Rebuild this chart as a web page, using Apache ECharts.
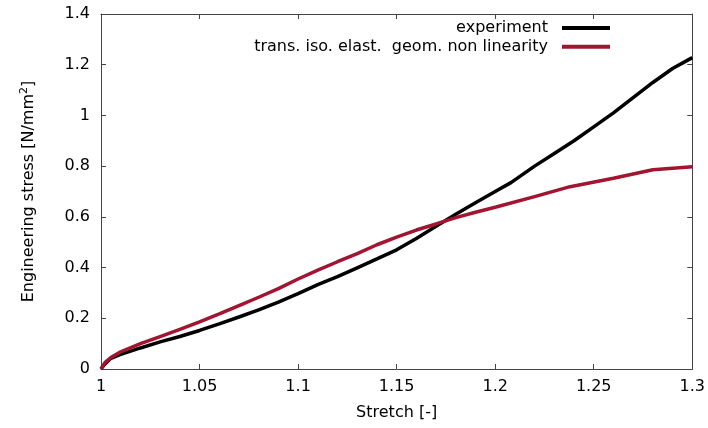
<!DOCTYPE html>
<html>
<head>
<meta charset="utf-8">
<script src="https://cdn.jsdelivr.net/npm/echarts@6/dist/echarts.min.js"></script>
<style>
  html, body { margin: 0; padding: 0; background: #fff; }
  #chart { width: 708px; height: 428px; }
</style>
</head>
<body>
<div id="chart"></div>
<script>
// Measured stress-stretch response
const expStretch = [1.0, 1.002, 1.005, 1.01, 1.02, 1.03, 1.04, 1.05, 1.06, 1.07, 1.08, 1.09, 1.1, 1.11, 1.12, 1.13, 1.14, 1.15, 1.16, 1.17, 1.18, 1.19, 1.2, 1.208, 1.22, 1.23, 1.24, 1.25, 1.26, 1.27, 1.28, 1.29, 1.3];
const expStress = [0, 0.02, 0.042, 0.058, 0.083, 0.107, 0.128, 0.152, 0.178, 0.205, 0.233, 0.264, 0.297, 0.333, 0.364, 0.399, 0.434, 0.47, 0.515, 0.563, 0.61, 0.656, 0.7, 0.735, 0.8, 0.85, 0.9, 0.955, 1.01, 1.07, 1.13, 1.185, 1.228];

// Transversely isotropic elastic model with geometric non-linearity
const modelStretch = [1.0, 1.002, 1.005, 1.01, 1.02, 1.03, 1.04, 1.05, 1.06, 1.07, 1.08, 1.09, 1.1, 1.11, 1.12, 1.13, 1.14, 1.15, 1.16, 1.17, 1.18, 1.19, 1.2, 1.22, 1.238, 1.26, 1.28, 1.3];
const modelStress = [0, 0.025, 0.045, 0.068, 0.1, 0.128, 0.156, 0.186, 0.217, 0.25, 0.283, 0.317, 0.355, 0.39, 0.423, 0.455, 0.49, 0.52, 0.548, 0.572, 0.597, 0.618, 0.638, 0.68, 0.719, 0.752, 0.786, 0.798];

const seriesNames = ['experiment', 'trans. iso. elast.  geom. non linearity'];
const seriesColors = ['#000000', '#a2142f'];

const FONT = 'DejaVu Sans';
const AXIS_COLOR = '#444444';

function pairs(xs, ys) {
  return xs.map((x, i) => [x, ys[i]]);
}

const frameAxis = {
  axisLine: { show: true, onZero: false, lineStyle: { color: AXIS_COLOR, width: 1 } },
  axisTick: { show: true, inside: true, length: 5, lineStyle: { color: AXIS_COLOR, width: 1 } },
  splitLine: { show: false }
};

const legendBase = {
  orient: 'horizontal',
  align: 'right',
  right: 98,
  padding: 0,
  itemWidth: 48,
  itemHeight: 4,
  icon: 'rect',
  selectedMode: false,
  textStyle: { fontFamily: FONT, fontSize: 16, color: '#000', padding: [0, 9, 0, 0] }
};

const chart = echarts.init(document.getElementById('chart'), null, { renderer: 'canvas' });

chart.setOption({
  animation: false,
  backgroundColor: '#ffffff',
  grid: { left: 101, right: 15, top: 14, bottom: 59, containLabel: false },
  legend: [
    Object.assign({}, legendBase, { top: 20, data: [seriesNames[0]] }),
    Object.assign({}, legendBase, { top: 38.7, data: [seriesNames[1]] })
  ],
  xAxis: [
    Object.assign({}, frameAxis, {
      type: 'value', position: 'bottom', min: 1, max: 1.3, interval: 0.05,
      name: 'Stretch [-]', nameLocation: 'middle', nameGap: 36,
      nameTextStyle: { fontFamily: FONT, fontSize: 16, color: '#000' },
      axisLabel: { fontFamily: FONT, fontSize: 16, color: '#000', margin: 10 }
    }),
    Object.assign({}, frameAxis, {
      type: 'value', position: 'top', min: 1, max: 1.3, interval: 0.05,
      axisLabel: { show: false }
    })
  ],
  yAxis: [
    Object.assign({}, frameAxis, {
      type: 'value', position: 'left', min: 0, max: 1.4, interval: 0.2,
      name: 'Engineering stress [N/mm{sup|2}]', nameLocation: 'middle', nameGap: 62,
      nameTextStyle: {
        fontFamily: FONT, fontSize: 16, color: '#000', lineHeight: 20,
        rich: {
          sup: { fontFamily: FONT, fontSize: 11, lineHeight: 11, verticalAlign: 'top', color: '#000' }
        }
      },
      axisLabel: { fontFamily: FONT, fontSize: 16, color: '#000', margin: 11 }
    }),
    Object.assign({}, frameAxis, {
      type: 'value', position: 'right', min: 0, max: 1.4, interval: 0.2,
      axisLabel: { show: false }
    })
  ],
  series: [
    {
      name: seriesNames[0], type: 'line', xAxisIndex: 0, yAxisIndex: 0,
      data: pairs(expStretch, expStress),
      showSymbol: false, symbol: 'none',
      color: seriesColors[0],
      lineStyle: { color: seriesColors[0], width: 3.5 }
    },
    {
      name: seriesNames[1], type: 'line', xAxisIndex: 0, yAxisIndex: 0,
      data: pairs(modelStretch, modelStress),
      showSymbol: false, symbol: 'none',
      color: seriesColors[1],
      lineStyle: { color: seriesColors[1], width: 3.5 }
    }
  ]
});
</script>
</body>
</html>
